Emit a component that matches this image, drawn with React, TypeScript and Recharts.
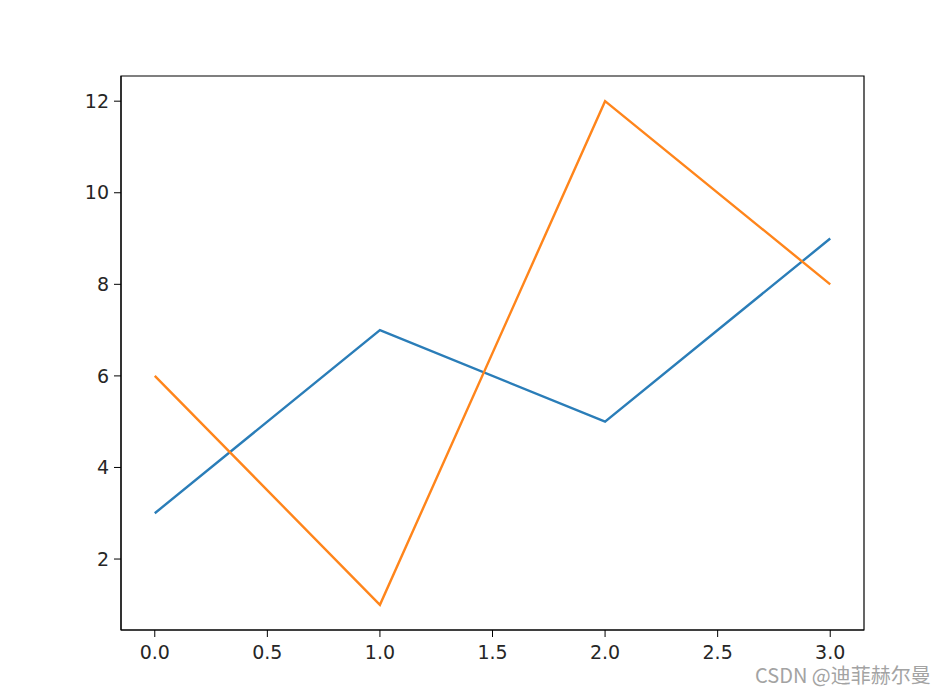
import { LineChart, Line, XAxis, YAxis, ReferenceArea } from 'recharts'

// values
const xs = [0, 1, 2, 3]
const blueValues = [3, 7, 5, 9]
const orangeValues = [6, 1, 12, 8]
const xTicks = [0, 0.5, 1, 1.5, 2, 2.5, 3]
const yTicks = [2, 4, 6, 8, 10, 12]

const data = xs.map((x, i) => ({ x, blue: blueValues[i], orange: orangeValues[i] }))

const tickStyle = { fontSize: 19, fill: '#262626', fontFamily: 'DejaVu Sans' }

export default function App() {
  return (
    <div style={{ position: 'absolute', left: 0, top: 0, width: 949, height: 695, background: '#fff' }}>
      <LineChart width={949} height={695} data={data} margin={{ top: 76, right: 85, bottom: 35, left: 61 }}>
        <XAxis
          dataKey="x"
          type="number"
          domain={[-0.15, 3.15]}
          ticks={xTicks}
          tickFormatter={(v: number) => v.toFixed(1)}
          tick={tickStyle}
          tickSize={7}
          tickMargin={9}
          height={30}
          stroke="#000"
          allowDataOverflow
        />
        <YAxis
          type="number"
          domain={[0.45, 12.55]}
          ticks={yTicks}
          tick={tickStyle}
          tickSize={7}
          tickMargin={5}
          width={60}
          stroke="#000"
          allowDataOverflow
        />
        <ReferenceArea x1={-0.15} x2={3.15} y1={0.45} y2={12.55} fill="none" stroke="#000" strokeWidth={1.2} />
        <Line dataKey="blue" stroke="#2a7db8" strokeWidth={2.4} dot={false} isAnimationActive={false} />
        <Line dataKey="orange" stroke="#ff851b" strokeWidth={2.4} dot={false} isAnimationActive={false} />
      </LineChart>
      <div
        style={{
          position: 'absolute',
          left: 755,
          top: 665,
          fontSize: 20,
          color: '#a3a3a3',
          fontFamily: '"Noto Sans CJK SC", "Noto Sans", sans-serif',
          whiteSpace: 'nowrap',
          lineHeight: '20px',
        }}
      >
        CSDN @迪菲赫尔曼
      </div>
    </div>
  )
}
